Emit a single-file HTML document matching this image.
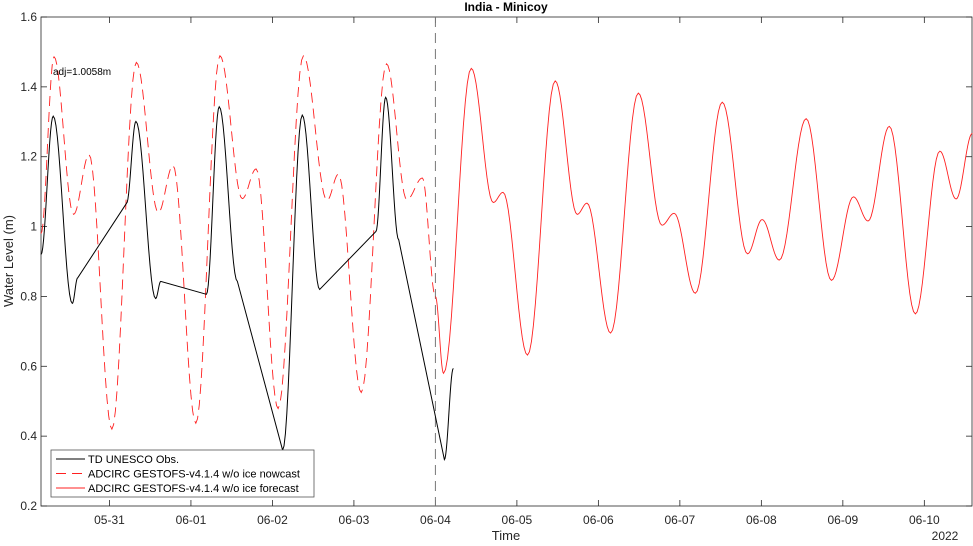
<!DOCTYPE html>
<html><head><meta charset="utf-8"><style>
body{margin:0;background:#fff}
svg text{font-family:"Liberation Sans","DejaVu Sans",sans-serif;fill:#262626}
</style></head><body>
<svg id="chart" width="973" height="541" xmlns="http://www.w3.org/2000/svg">
<rect width="973" height="541" fill="#fff"/>
<g id="axes"></g>
<g id="series"></g>
<g id="overlay"></g>
</svg>
<script>
// Data (t in days since 05-31 00:00)
const xTickLabels = ["05-31","06-01","06-02","06-03","06-04","06-05","06-06","06-07","06-08","06-09","06-10"];
const yTickValues = [0.2,0.4,0.6,0.8,1.0,1.2,1.4,1.6];
const yTickLabels = ["0.2","0.4","0.6","0.8","1","1.2","1.4","1.6"];
const nowT = [-0.84,-0.68,-0.44,-0.25,0.03,0.33,0.6,0.78,1.06,1.356,1.63,1.80,2.07,2.38,2.67,2.81,3.09,3.40,3.65,3.84,4.0];
const nowV = [0.98,1.486,1.035,1.206,0.42,1.47,1.04,1.175,0.437,1.489,1.08,1.165,0.479,1.489,1.075,1.15,0.525,1.466,1.077,1.139,0.80];
const fcT = [4.0,4.10,4.44,4.71,4.83,5.13,5.47,5.74,5.86,6.15,6.49,6.78,6.93,7.19,7.52,7.83,8.01,8.22,8.55,8.86,9.13,9.31,9.57,9.89,10.19,10.39,10.59];
const fcV = [0.80,0.58,1.453,1.069,1.098,0.632,1.417,1.035,1.067,0.695,1.382,1.004,1.038,0.809,1.356,0.922,1.02,0.904,1.309,0.846,1.085,1.016,1.287,0.75,1.216,1.079,1.267];
const obsT = [-0.84,-0.69,-0.456,-0.39,0.21,0.325,0.567,0.63,1.19,1.347,1.57,2.125,2.366,2.58,3.27,3.39,3.55,4.11,4.22];
const obsV = [0.92,1.316,0.78,0.853,1.067,1.301,0.794,0.843,0.806,1.343,0.843,0.36,1.319,0.82,0.986,1.37,0.962,0.333,0.594];
const obsGap = [0,0,0,1,0,0,0,1,0,0,1,0,0,1,0,0,1,0];

const L=41,R=972,T=17,B=506;
const t0=-0.84,t1=10.585,vmin=0.2,vmax=1.6;
const xs=t=>L+(t-t0)/(t1-t0)*(R-L);
const ys=v=>B-(v-vmin)/(vmax-vmin)*(B-T);
const NS="http://www.w3.org/2000/svg";
function mk(tag,attrs,parent){const e=document.createElementNS(NS,tag);for(const k in attrs)e.setAttribute(k,attrs[k]);parent.appendChild(e);return e;}
const axes=document.getElementById('axes'),series=document.getElementById('series'),ov=document.getElementById('overlay');

function smoothPath(T_,V_,gaps){
  let d="M"+xs(T_[0]).toFixed(2)+","+ys(V_[0]).toFixed(2);
  for(let i=0;i<T_.length-1;i++){
    if(gaps&&gaps[i]){d+="L"+xs(T_[i+1]).toFixed(2)+","+ys(V_[i+1]).toFixed(2);continue;}
    const n=14;
    for(let k=1;k<=n;k++){const f=k/n,w=(1-Math.cos(Math.PI*f))/2;
      const t=T_[i]+(T_[i+1]-T_[i])*f,v=V_[i]+(V_[i+1]-V_[i])*w;
      d+="L"+xs(t).toFixed(2)+","+ys(v).toFixed(2);}
  }
  return d;
}

// box
let box=mk('rect',{x:L,y:T,width:R-L,height:B-T,fill:'none',stroke:'#262626','stroke-width':0.8},axes);


// x ticks
xTickLabels.forEach((lab,i)=>{
  const x=xs(i);
  mk('line',{x1:x,y1:B,x2:x,y2:B-6,stroke:'#262626','stroke-width':0.8},axes);
  mk('line',{x1:x,y1:T,x2:x,y2:T+6,stroke:'#262626','stroke-width':0.8},axes);
  const tx=mk('text',{x:x,y:524,'text-anchor':'middle','font-size':12},axes);
  tx.textContent=lab;
  
  
});
yTickValues.forEach((v,i)=>{
  const y=ys(v);
  mk('line',{x1:L,y1:y,x2:L+6,y2:y,stroke:'#262626','stroke-width':0.8},axes);
  mk('line',{x1:R,y1:y,x2:R-6,y2:y,stroke:'#262626','stroke-width':0.8},axes);
  const tx=mk('text',{x:37,y:y+4,'text-anchor':'end','font-size':12},axes);
  tx.textContent=yTickLabels[i];
  
  
});
// forecast start line
const vl=mk('line',{x1:xs(4),y1:T,x2:xs(4),y2:B,stroke:'#777','stroke-width':1,'stroke-dasharray':'10,6'},axes);



const pn=mk('path',{d:smoothPath(nowT,nowV),fill:'none',stroke:'#ff2020','stroke-width':0.9,'stroke-dasharray':'10,6'},series);


const pf=mk('path',{d:smoothPath(fcT,fcV),fill:'none',stroke:'#ff2020','stroke-width':0.9},series);


const po=mk('path',{d:smoothPath(obsT,obsV,obsGap),fill:'none',stroke:'#000','stroke-width':1},series);



// texts
function txt(s,a,name){const e=mk('text',a,ov);e.textContent=s;return e;}
txt('India - Minicoy',{x:506,y:11,'text-anchor':'middle','font-size':12,'font-weight':'bold',style:'fill:#000'},'chart-title');
txt('Time',{x:506,y:540,'text-anchor':'middle','font-size':13},'x-axis-title');
txt('2022',{x:945,y:540,'text-anchor':'middle','font-size':12},'year-label');
txt('Water Level (m)',{x:13,y:261,'text-anchor':'middle','font-size':13,transform:'rotate(-90 13 261)'},'y-axis-title');
txt('adj=1.0058m',{x:53,y:75,'font-size':10,style:'fill:#000'},'adjustment-note');

// legend
const lg=mk('g',{},ov);


mk('rect',{x:51,y:450,width:263,height:47,fill:'#fff',stroke:'#555','stroke-width':0.8},lg);
const items=[["TD UNESCO Obs.","#000",""],["ADCIRC GESTOFS-v4.1.4 w/o ice nowcast","#ff2020","10,6"],["ADCIRC GESTOFS-v4.1.4 w/o ice forecast","#ff2020",""]];
items.forEach((it,i)=>{
  const y=459+i*14.5;
  const g=mk('g',{},lg);
  
  
  const a={x1:56,y1:y,x2:85,y2:y,stroke:it[1],'stroke-width':0.9};if(it[2])a['stroke-dasharray']=it[2];
  mk('line',a,g);
  const t=mk('text',{x:88,y:y+4,'font-size':11,style:'fill:#000'},g);t.textContent=it[0];
});
</script>
</body></html>
